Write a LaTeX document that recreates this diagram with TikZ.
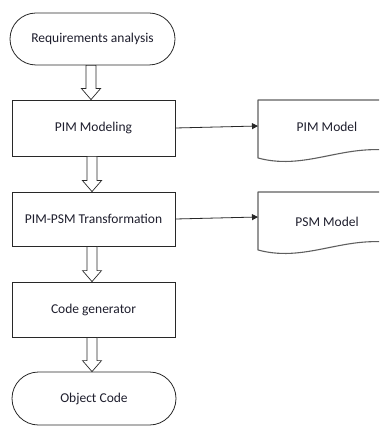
\documentclass[tikz,border=0pt]{standalone}
\usepackage{fontspec}
\setmainfont{Carlito}
\usetikzlibrary{shapes.misc,arrows.meta,calc}
\definecolor{txt}{RGB}{30,30,45}
\definecolor{ln}{RGB}{40,40,40}
\definecolor{docln}{RGB}{95,95,95}
\begin{document}
\begin{tikzpicture}[x=1pt,y=-1pt,
  every node/.style={font=\fontsize{13.5}{16}\selectfont, text=txt},
  term/.style={draw=ln, line width=0.8pt, rounded rectangle, inner sep=0pt, fill=white},
  procbox/.style={draw=ln, line width=0.8pt, rectangle, inner sep=0pt, fill=white},
  docline/.style={draw=docln, line width=1.1pt, line join=round},
  hollow/.style={draw=ln, line width=0.7pt, fill=white, line join=miter},
  conn/.style={draw=ln, line width=0.8pt, -{Triangle[length=6pt,width=6pt]}}
]
\useasboundingbox (0,0) rectangle (379,427);
\clip (0,0) rectangle (379,427);

% flow nodes
\node[term, minimum width=165, minimum height=52] (req) at (92.5,39) {Requirements analysis};
\node[procbox, minimum width=163, minimum height=56] (pim) at (93.5,128) {PIM Modeling};
\node[procbox, minimum width=163, minimum height=54] (pimpsm) at (93.5,219) {\raisebox{-3pt}{PIM-PSM Transformation}};
\node[procbox, minimum width=163, minimum height=55] (code) at (93.5,309.5) {Code generator};
\node[term, minimum width=164, minimum height=53] (obj) at (94,398.5) {Object Code};

% hollow block arrows
\newcommand\blockarrow[2]{%
  \path[hollow] let \p1=(#1.south), \p2=(#2.north) in
    (\x1-6.5pt,\y1) -- (\x1-6.5pt,\y2+11pt) -- (\x1-11pt,\y2+11pt) --
    (\x1-1.5pt,\y2) -- (\x1+8pt,\y2+11pt) -- (\x1+3.5pt,\y2+11pt) --
    (\x1+3.5pt,\y1) -- cycle;}
\blockarrow{req}{pim}
\blockarrow{pim}{pimpsm}
\blockarrow{pimpsm}{code}
\blockarrow{code}{obj}

% document shapes
\path[docline] (258,100) -- (258,158) .. controls (310,172) and (350,138) .. (408,154) -- (408,100) -- cycle;
\path[docline] (258,192) -- (258,250) .. controls (310,264) and (350,230) .. (408,246) -- (408,192) -- cycle;
\node (pimm) at (327,127) {PIM Model};
\node (psmm) at (327,222) {PSM Model};
\coordinate (pimin) at (258,126);
\coordinate (psmin) at (258,217);

% connectors
\draw[conn] (pim.east) -- (pimin);
\draw[conn] (pimpsm.east) -- (psmin);
\end{tikzpicture}
\end{document}
